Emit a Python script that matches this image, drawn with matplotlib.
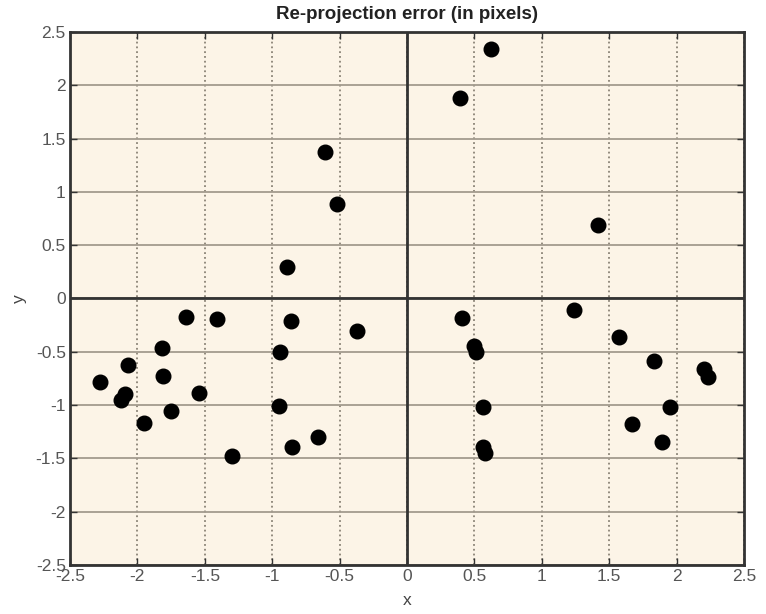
import numpy as np
import matplotlib
matplotlib.use("Agg")
import matplotlib.pyplot as plt

# re-projection error points
err_x = [0.62, 0.39, -0.61, -0.52, -0.89, 1.42,
         -1.64, -1.41, -0.86, -0.37, -1.82, -0.94, -2.07, -2.28, -1.81, -2.09,
         -2.12, -1.545, -1.75, -1.95, -0.95, -0.66, -0.85, -1.30,
         0.41, 0.50, 0.51, 0.56, 0.56, 0.58, 1.24, 1.57, 1.83, 2.20, 2.23,
         1.95, 1.67, 1.89]
err_y = [2.34, 1.88, 1.37, 0.89, 0.30, 0.69,
         -0.17, -0.195, -0.21, -0.305, -0.46, -0.50, -0.62, -0.78, -0.73, -0.90,
         -0.955, -0.89, -1.06, -1.17, -1.005, -1.30, -1.39, -1.48,
         -0.18, -0.445, -0.50, -1.02, -1.39, -1.45, -0.11, -0.36, -0.59, -0.66, -0.74,
         -1.02, -1.18, -1.35]

ticks = [-2.5, -2, -1.5, -1, -0.5, 0, 0.5, 1, 1.5, 2, 2.5]
tick_labels = ['-2.5', '-2', '-1.5', '-1', '-0.5', '0', '0.5', '1', '1.5', '2', '2.5']

plt.rcParams['font.family'] = ['Liberation Sans', 'DejaVu Sans']

fig = plt.figure(figsize=(7.66, 6.14), dpi=100)
ax = fig.add_axes([0.0914, 0.0798, 0.8799, 0.8681])
ax.set_facecolor('#fcf4e7')

ax.set_xlim(-2.5, 2.5)
ax.set_ylim(-2.5, 2.5)
ax.set_xticks(ticks)
ax.set_yticks(ticks)
ax.set_xticklabels(tick_labels)
ax.set_yticklabels(tick_labels)
ax.tick_params(direction='in', length=5, width=1, colors='#333333',
               labelcolor='#555555', labelsize=12.5, top=True, right=True, pad=3)

# MATLAB-ish grid: vertical dotted, horizontal looks nearly solid
ax.xaxis.grid(True, color='#8a8376', linestyle=':', linewidth=1.3)
ax.yaxis.grid(True, color='#a39b8e', linestyle='-', linewidth=1.3)
ax.axhline(0, color='#333333', linewidth=2, zorder=2)
ax.axvline(0, color='#333333', linewidth=2, zorder=2)

for s in ax.spines.values():
    s.set_color('#333333')
    s.set_linewidth(2)

ax.plot(err_x, err_y, 'o', color='black', markersize=10.5, zorder=3)

ax.set_title('Re-projection error (in pixels)', fontsize=13.5, fontweight='bold',
             color='#222222', pad=9)
ax.set_xlabel('x', fontsize=12.5, color='#444444', labelpad=6)
ax.set_ylabel('y', fontsize=12.5, color='#444444', labelpad=6)

fig.savefig('out.png', dpi=100)
